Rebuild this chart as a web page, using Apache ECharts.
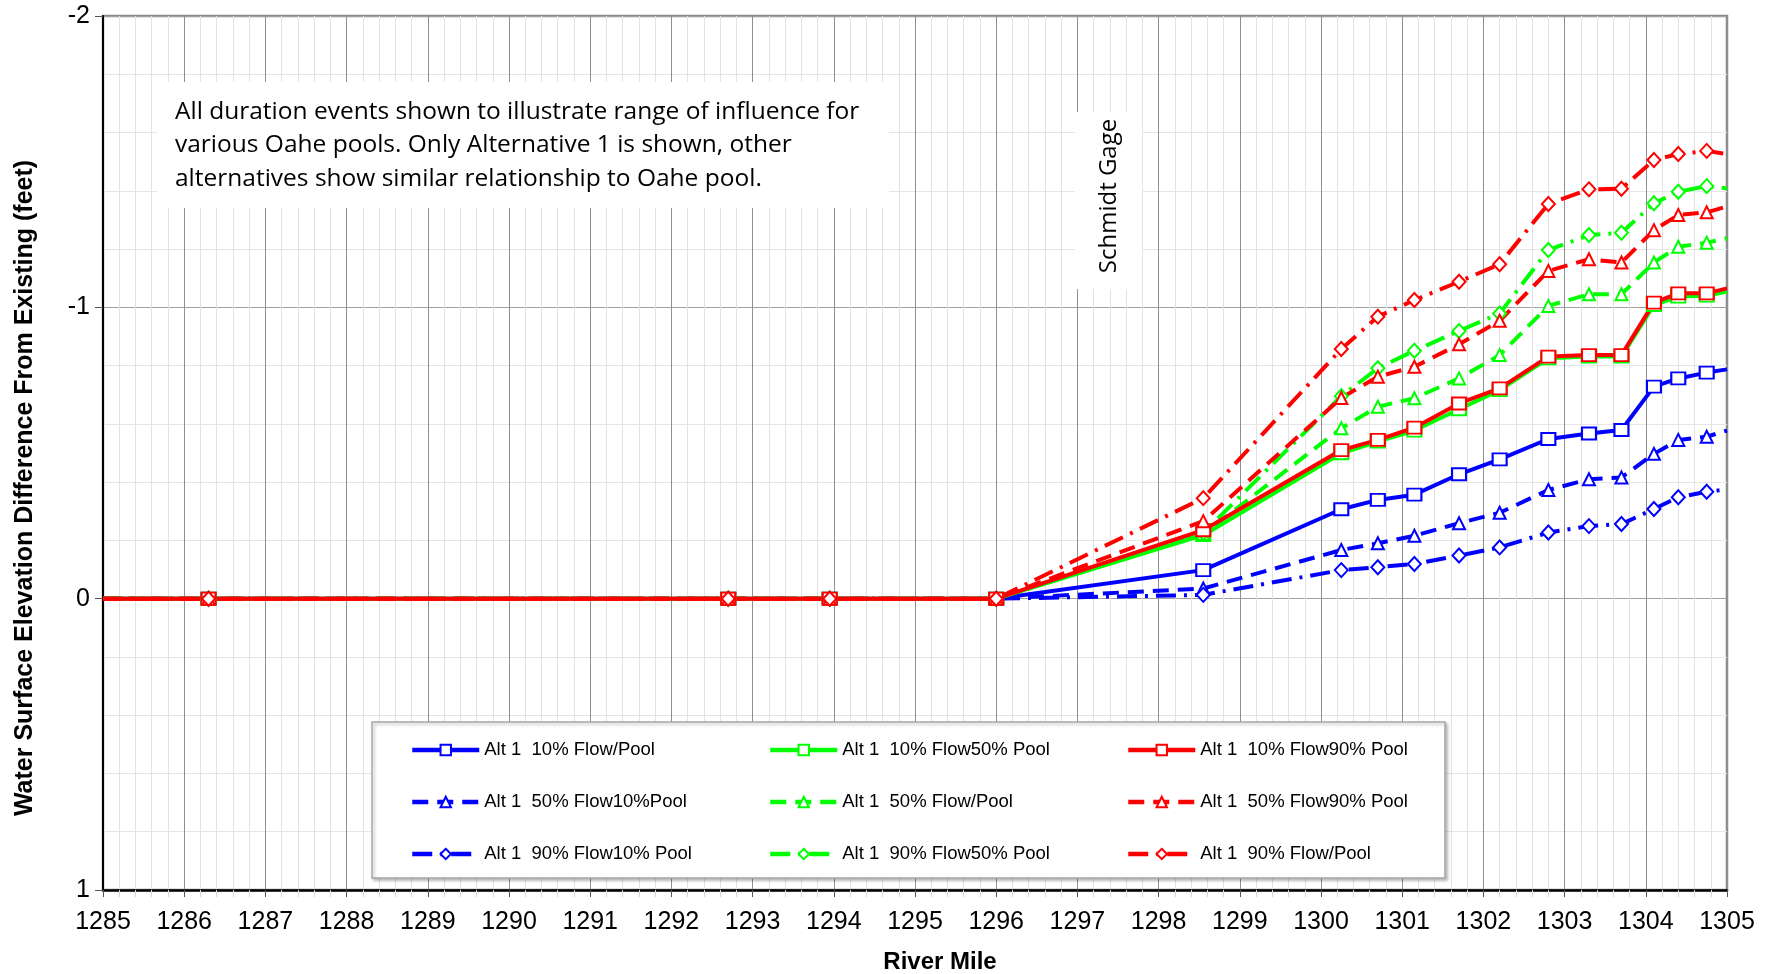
<!DOCTYPE html>
<html>
<head>
<meta charset="utf-8">
<script src="https://cdn.jsdelivr.net/npm/echarts@6/dist/echarts.min.js"></script>
<style>
html,body{margin:0;padding:0;background:#fff;}
#chart{width:1774px;height:974px;}
</style>
</head>
<body>
<div id="chart"></div>
<script>
// River mile positions (first and last are the plot edges, drawn without markers)
const miles = [1285, 1286.3, 1292.7, 1293.95, 1296, 1298.55, 1300.25, 1300.7, 1301.15, 1301.7, 1302.2, 1302.8, 1303.3, 1303.7, 1304.1, 1304.4, 1304.75, 1305];

const seriesNames = [
  'Alt 1  10% Flow/Pool', 'Alt 1  50% Flow10%Pool', 'Alt 1  90% Flow10% Pool',
  'Alt 1  10% Flow50% Pool', 'Alt 1  50% Flow/Pool', 'Alt 1  90% Flow50% Pool',
  'Alt 1  10% Flow90% Pool', 'Alt 1  50% Flow90% Pool', 'Alt 1  90% Flow/Pool'
];

const blue10  = [0,0,0,0,0,-0.098,-0.307,-0.339,-0.357,-0.427,-0.478,-0.548,-0.567,-0.579,-0.728,-0.756,-0.776,-0.787];
const blue50  = [0,0,0,0,0,-0.035,-0.167,-0.190,-0.216,-0.259,-0.295,-0.373,-0.410,-0.416,-0.497,-0.545,-0.556,-0.577];
const blue90  = [0,0,0,0,0,-0.013,-0.098,-0.108,-0.119,-0.148,-0.176,-0.227,-0.249,-0.256,-0.308,-0.348,-0.367,-0.375];
const green10 = [0,0,0,0,0,-0.218,-0.499,-0.539,-0.577,-0.650,-0.716,-0.825,-0.831,-0.831,-1.008,-1.037,-1.040,-1.054];
const green50 = [0,0,0,0,0,-0.222,-0.585,-0.659,-0.688,-0.756,-0.836,-1.005,-1.045,-1.045,-1.154,-1.208,-1.222,-1.237];
const green90 = [0,0,0,0,0,-0.226,-0.695,-0.791,-0.851,-0.919,-0.979,-1.197,-1.248,-1.256,-1.357,-1.397,-1.416,-1.408];
const red10   = [0,0,0,0,0,-0.235,-0.510,-0.545,-0.587,-0.670,-0.722,-0.831,-0.836,-0.836,-1.016,-1.048,-1.048,-1.065];
const red50   = [0,0,0,0,0,-0.266,-0.689,-0.762,-0.796,-0.873,-0.954,-1.125,-1.165,-1.154,-1.265,-1.317,-1.326,-1.346];
const red90   = [0,0,0,0,0,-0.345,-0.857,-0.968,-1.025,-1.088,-1.148,-1.355,-1.405,-1.407,-1.506,-1.526,-1.537,-1.526];

const xTicks = [1285, 1305, 1];   // min, max, interval
const yTicks = [-2, 1, 1];        // min, max, interval

const BLUE = '#0000ff', GREEN = '#00ff00', RED = '#ff0000';
const SOLID = 'solid', DASH = [16, 9], DASHDOT = [20, 8, 3, 8];

const specs = [
  [blue10, BLUE, SOLID, 'emptyRect', [14, 12]],
  [blue50, BLUE, DASH, 'emptyTriangle', [12, 12]],
  [blue90, BLUE, DASHDOT, 'emptyDiamond', [13, 14]],
  [green10, GREEN, SOLID, 'emptyRect', [14, 12]],
  [green50, GREEN, DASH, 'emptyTriangle', [12, 12]],
  [green90, GREEN, DASHDOT, 'emptyDiamond', [13, 14]],
  [red10, RED, SOLID, 'emptyRect', [14, 12]],
  [red50, RED, DASH, 'emptyTriangle', [12, 12]],
  [red90, RED, DASHDOT, 'emptyDiamond', [13, 14]]
];

const series = specs.map((s, i) => ({
  name: seriesNames[i],
  type: 'line',
  symbol: s[3],
  symbolSize: s[4],
  showAllSymbol: true,
  clip: true,
  data: miles.map((m, j) => {
    const item = { value: [m, s[0][j]] };
    if (j === 0 || j === miles.length - 1) item.symbol = 'none';
    return item;
  }),
  lineStyle: { color: s[1], width: 4, type: s[2] },
  itemStyle: { color: s[1], borderColor: s[1], borderWidth: 2 },
  emphasis: { disabled: true }
}));

const legendBase = {
  orient: 'vertical',
  top: 740,
  itemWidth: 67,
  itemHeight: 13,
  itemGap: 32,
  padding: 0,
  z: 20,
  selectedMode: false,
  lineStyle: { width: 4.5 },
  textStyle: { fontFamily: 'Liberation Sans, Arial, sans-serif', fontSize: 18.5, color: '#000', lineHeight: 20 }
};

const chart = echarts.init(document.getElementById('chart'));
chart.setOption({
  animation: false,
  backgroundColor: '#fff',
  grid: { left: 103, top: 16, width: 1624, height: 874, show: true, borderColor: '#8a8a8a', borderWidth: 2.5, backgroundColor: 'transparent' },
  xAxis: {
    type: 'value', min: xTicks[0], max: xTicks[1], interval: xTicks[2],
    axisLine: { show: true, onZero: false, lineStyle: { color: '#000', width: 2.5 } },
    axisTick: { show: true, length: 7, lineStyle: { color: '#555' } },
    minorTick: { show: true, splitNumber: 5, length: 7, lineStyle: { color: '#d8d8d8' } },
    axisLabel: { fontFamily: 'Liberation Sans, Arial, sans-serif', fontSize: 25, color: '#000', margin: 20, formatter: v => String(v) },
    splitLine: { show: true, lineStyle: { color: '#909090', width: 1 } },
    minorSplitLine: { show: true, lineStyle: { color: '#e2e2e2', width: 1 } }
  },
  yAxis: {
    type: 'value', inverse: true, min: yTicks[0], max: yTicks[1], interval: yTicks[2],
    axisLine: { show: true, onZero: false, lineStyle: { color: '#000', width: 2 } },
    axisTick: { show: true, length: 8, lineStyle: { color: '#555' } },
    minorTick: { show: false, splitNumber: 5 },
    axisLabel: { fontFamily: 'Liberation Sans, Arial, sans-serif', fontSize: 25, color: '#000', margin: 13, formatter: v => String(v) },
    splitLine: { show: true, lineStyle: { color: '#a0a0a0', width: 1 } },
    minorSplitLine: { show: true, lineStyle: { color: '#e6e6e6', width: 1 } }
  },
  legend: [
    Object.assign({}, legendBase, { left: 410, data: seriesNames.slice(0, 3) }),
    Object.assign({}, legendBase, { left: 768, data: seriesNames.slice(3, 6) }),
    Object.assign({}, legendBase, { left: 1126, data: seriesNames.slice(6, 9) })
  ],
  graphic: [
    { type: 'rect', z: 10, shape: { x: 372, y: 722, width: 1073, height: 156 },
      style: { fill: '#fff', stroke: '#a6a6a6', lineWidth: 1.5, shadowBlur: 3, shadowOffsetX: 2, shadowOffsetY: 2, shadowColor: 'rgba(0,0,0,0.25)' } },
    { type: 'rect', z: 10, shape: { x: 157, y: 82, width: 732, height: 126 }, style: { fill: '#fff' } },
    { type: 'text', z: 11, x: 175, y: 95,
      style: { text: 'All duration events shown to illustrate range of influence for\nvarious Oahe pools. Only Alternative 1 is shown, other\nalternatives show similar relationship to Oahe pool.',
        font: '24.5px "Open Sans", sans-serif', fill: '#000', lineHeight: 33.5, verticalAlign: 'top', align: 'left' } },
    { type: 'rect', z: 10, shape: { x: 1075, y: 112, width: 67, height: 177 }, style: { fill: '#fff' } },
    { type: 'text', z: 11, x: 1109, y: 196, rotation: Math.PI / 2,
      style: { text: 'Schmidt Gage', font: '24px "Open Sans", sans-serif', fill: '#000', align: 'center', verticalAlign: 'middle' } },
    { type: 'text', z: 11, x: 25, y: 488, rotation: Math.PI / 2,
      style: { text: 'Water Surface Elevation Difference From Existing (feet)', font: 'bold 25px "Liberation Sans", Arial, sans-serif', fill: '#000', align: 'center', verticalAlign: 'middle' } },
    { type: 'text', z: 11, x: 940, y: 962,
      style: { text: 'River Mile', font: 'bold 24px "Liberation Sans", Arial, sans-serif', fill: '#000', align: 'center', verticalAlign: 'middle' } }
  ],
  series: series
});
</script>
</body>
</html>
